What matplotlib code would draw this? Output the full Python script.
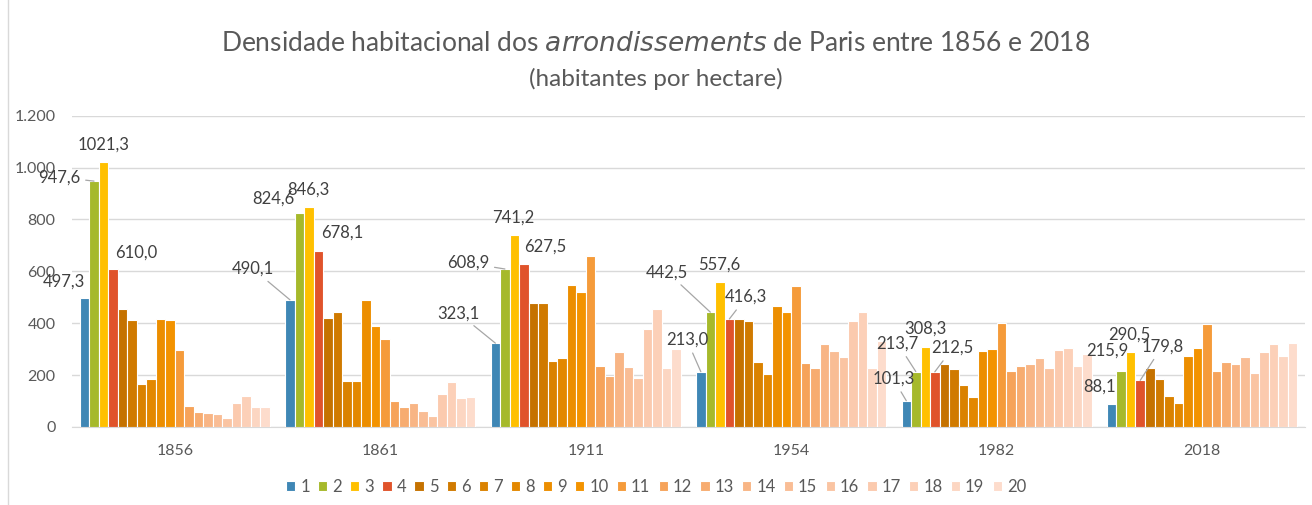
import numpy as np
import matplotlib
matplotlib.use('Agg')
import matplotlib.pyplot as plt
from matplotlib.ticker import FuncFormatter
from matplotlib.lines import Line2D

plt.rcParams['font.family'] = ['Lato', 'DejaVu Sans']

years = ['1856', '1861', '1911', '1954', '1982', '2018']
arrondissements = [str(i) for i in range(1, 21)]

# densidade por arrondissement (linhas = 1..20, colunas = anos)
dens = [
    [497.3, 490.1, 323.1, 213.0, 101.3, 88.1],
    [947.6, 824.6, 608.9, 442.5, 213.7, 215.9],
    [1021.3, 846.3, 741.2, 557.6, 308.3, 290.5],
    [610.0, 678.1, 627.5, 416.3, 212.5, 179.8],
    [456, 420, 476, 417, 242, 227],
    [414, 442, 476, 408, 223, 186],
    [167, 176, 256, 251, 163, 121],
    [186, 178, 267, 205, 117, 92],
    [415, 491, 547, 467, 291, 272],
    [411, 391, 520, 444, 299, 304],
    [296, 341, 659, 544, 399, 395],
    [81, 101, 235, 245, 214, 215],
    [59, 77, 197, 228, 236, 251],
    [55, 91, 288, 321, 244, 241],
    [50, 63, 232, 291, 264, 270],
    [36, 44, 188, 269, 226, 209],
    [91, 129, 378, 408, 297, 290],
    [120, 174, 455, 442, 306, 319],
    [77, 110, 227, 226, 236, 272],
    [76, 114, 299, 331, 283, 323],
]

colors = ['#3F87B5', '#A6B92B', '#FFC000', '#E0532B', '#C57200', '#D07A00',
          '#DA8200', '#E38800', '#EC8E00', '#F39300', '#F59B3A', '#F6A35A',
          '#F7AC70', '#F8B585', '#F9BD95', '#FAC4A2', '#FBCAAE', '#FCD0B8',
          '#FCD6C2', '#FDDCCC']

# rótulos: (arrondissement idx, ano idx, dx px, dy px, linha guia)
labels = [
    (0, 0, -21, 16, False), (1, 0, -35, 4, True), (2, 0, 0, 17, False), (3, 0, 23, 16, False),
    (0, 1, -37, 31, True), (1, 1, -26, 14, False), (2, 1, -1, 18, False), (3, 1, 24, 18, False),
    (0, 2, -37, 30, True), (1, 2, -37, 6, True), (2, 2, -1, 17, False), (3, 2, 21, 18, False),
    (0, 3, -14, 32, True), (1, 3, -43, 40, True), (2, 3, -1, 18, False), (3, 3, 17, 22, True),
    (0, 4, -13, 22, True), (1, 4, -18, 28, True), (2, 4, 0, 18, False), (3, 4, 18, 24, True),
    (0, 5, -12, 17, False), (1, 5, -14, 20, False), (2, 5, -1, 17, False), (3, 5, 22, 34, True),
]

fig = plt.figure(figsize=(13.12, 5.05), dpi=100)
ax = fig.add_axes([0.055, 0.1545, 0.9395, 0.6165])

x = np.arange(len(years))
n = len(arrondissements)
slot = 0.0463
bars = []
for i in range(n):
    pos = x + (i - (n - 1) / 2) * slot
    b = ax.bar(pos, dens[i], width=slot, color=colors[i], edgecolor='white',
               linewidth=0.8, label=arrondissements[i], zorder=3)
    bars.append(b)

for ai, yi, dx, dy, guide in labels:
    v = dens[ai][yi]
    xb = x[yi] + (ai - (n - 1) / 2) * slot
    txt = f'{v:.1f}'.replace('.', ',')
    ap = None
    if guide:
        ap = dict(arrowstyle='-', color='#A6A6A6', lw=0.9, shrinkA=2, shrinkB=0)
    ax.annotate(txt, xy=(xb, v), xytext=(dx, dy), textcoords='offset pixels',
                ha='center', va='center', fontsize=12, color='#404040',
                arrowprops=ap, zorder=5)

ax.set_xlim(-0.5, len(years) - 0.5)
ax.set_ylim(0, 1200)
ax.set_yticks(range(0, 1201, 200))
ax.yaxis.set_major_formatter(FuncFormatter(lambda v, p: f'{int(v):,}'.replace(',', '.')))
ax.set_xticks(x)
ax.set_xticklabels(years)
ax.tick_params(axis='both', length=0, labelsize=11.5, colors='#595959')
ax.tick_params(axis='x', pad=12)
ax.tick_params(axis='y', pad=12)
ax.grid(axis='y', color='#D9D9D9', lw=1, zorder=0)
for s in ['top', 'right', 'left']:
    ax.spines[s].set_visible(False)
ax.spines['bottom'].set_color('#D9D9D9')

fig.text(0.5, 0.913, 'Densidade habitacional dos $\\it{arrondissements}$ de Paris entre 1856 e 2018',
         ha='center', va='center', fontsize=19, color='#595959')
fig.text(0.5, 0.843, '(habitantes por hectare)', ha='center', va='center',
         fontsize=17.5, color='#595959')

fig.legend(handles=bars, labels=arrondissements, loc='center', bbox_to_anchor=(0.5, 0.035),
           ncol=20, frameon=False, fontsize=12, handlelength=0.55, handleheight=0.55,
           handletextpad=0.3, columnspacing=0.5, labelcolor='#595959')

fig.add_artist(Line2D([0.006, 0.006], [0, 1], transform=fig.transFigure, color='#D9D9D9', lw=1))

fig.savefig('out.png', dpi=100)
